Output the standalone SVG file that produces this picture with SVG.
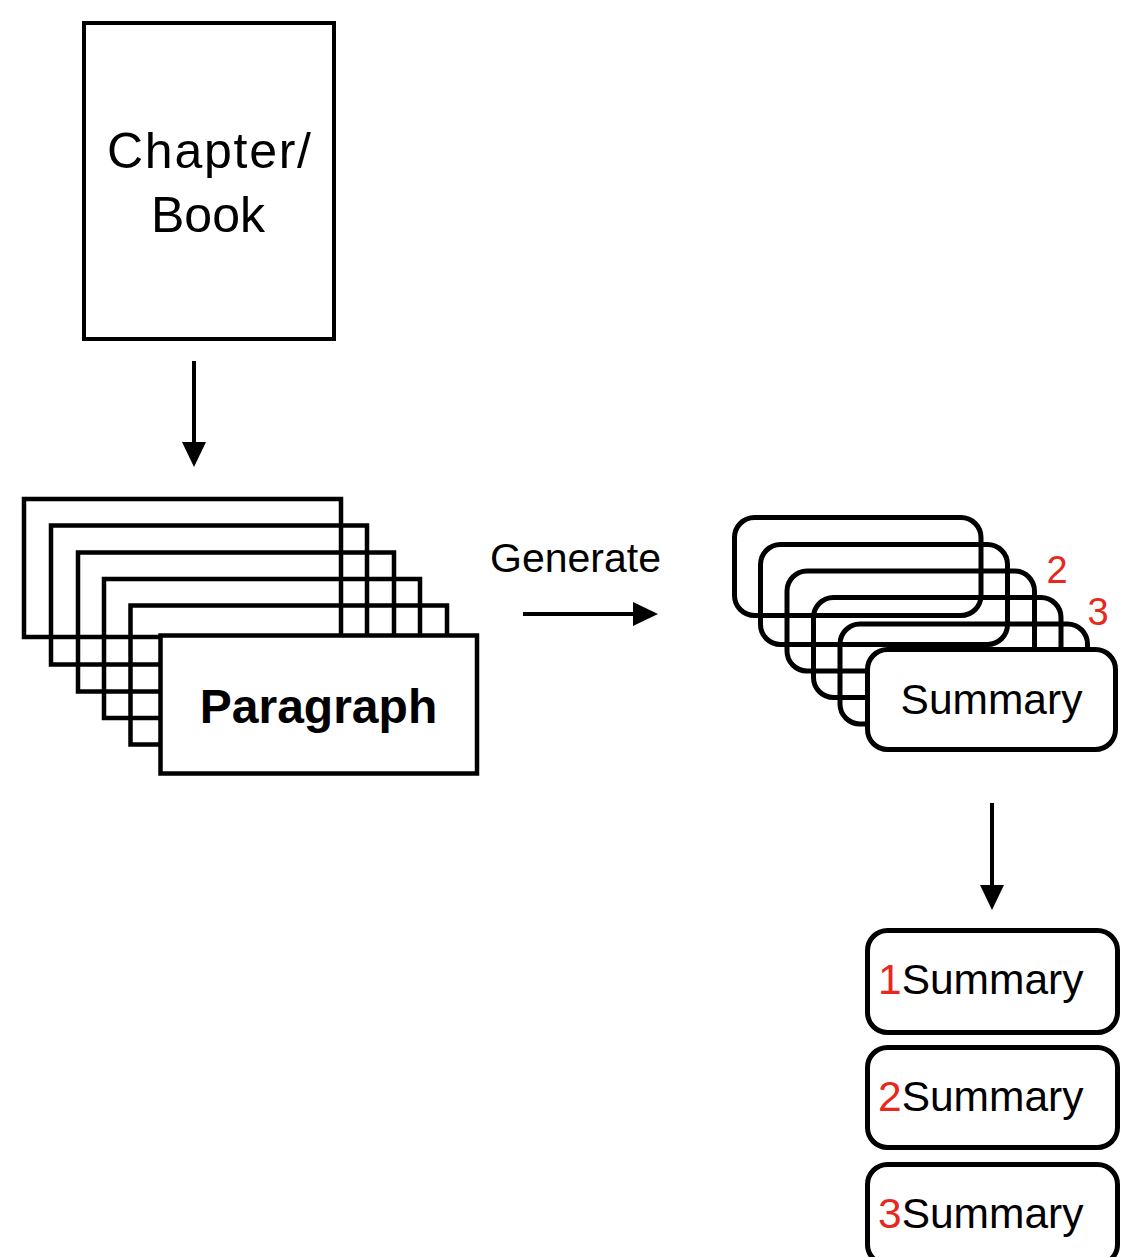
<svg xmlns="http://www.w3.org/2000/svg" width="1132" height="1257" viewBox="0 0 1132 1257">
  <style>
    .doc { fill: #fff; stroke: #000; stroke-width: 4; }
    .box { fill: none; stroke: #000; stroke-width: 4.5; }
    .front { fill: #fff; stroke: #000; stroke-width: 4.5; }
    .rbox { fill: none; stroke: #000; stroke-width: 5; }
    .rfront { fill: #fff; stroke: #000; stroke-width: 5; }
    .label { font-family: "Liberation Sans", Arial, sans-serif; fill: #000; }
    .num { fill: #e8281c; }
    .wire { stroke: #000; stroke-width: 4; fill: none; }
  </style>
  <defs>
    <marker id="head" viewBox="0 0 25 24" refX="0" refY="12" markerWidth="25" markerHeight="24" markerUnits="userSpaceOnUse" orient="auto">
      <path d="M0,0 L25,12 L0,24 Z" fill="#000"/>
    </marker>
  </defs>

  <rect width="1132" height="1257" fill="#fff"/>

  <!-- source document -->
  <g id="chapter-book">
    <rect class="doc" x="84" y="23" width="250" height="316"/>
    <text class="label" font-size="50" x="107" y="168" textLength="204" lengthAdjust="spacing">Chapter/</text>
    <text class="label" font-size="50" x="208" y="232" text-anchor="middle">Book</text>
  </g>

  <!-- stacked paragraphs -->
  <g id="paragraphs">
    <rect class="box" x="24" y="499" width="317" height="138"/>
    <rect class="box" x="51" y="525.5" width="316" height="139"/>
    <rect class="box" x="78" y="552.5" width="316" height="139"/>
    <rect class="box" x="104" y="579" width="316" height="139"/>
    <rect class="box" x="130.5" y="605.5" width="316.5" height="139"/>
    <rect class="front" x="160.5" y="635.5" width="316.5" height="138"/>
    <text class="label" font-size="48" font-weight="bold" x="318.5" y="723" text-anchor="middle">Paragraph</text>
  </g>

  <!-- stacked summaries -->
  <g id="summaries">
    <rect class="rbox" x="734.5" y="517.5" width="246.5" height="98" rx="20"/>
    <rect class="rbox" x="760.5" y="544.5" width="247" height="100" rx="20"/>
    <rect class="rbox" x="787" y="571" width="247.5" height="100" rx="20"/>
    <rect class="rbox" x="813.5" y="597.5" width="247.5" height="100" rx="20"/>
    <rect class="rbox" x="840" y="624" width="247.5" height="100" rx="20"/>
    <rect class="rfront" x="867.5" y="649.5" width="248" height="100" rx="20"/>
    <text class="label" font-size="42.5" x="991.5" y="714" text-anchor="middle">Summary</text>
    <text class="label num" font-size="38" x="1057" y="583" text-anchor="middle">2</text>
    <text class="label num" font-size="38" x="1098" y="625" text-anchor="middle">3</text>
  </g>

  <!-- ordered summary list -->
  <g id="summary-1">
    <rect class="rfront" x="867.5" y="930.5" width="250" height="102" rx="20"/>
    <text class="label" font-size="42.5" x="878" y="994"><tspan class="num">1</tspan>Summary</text>
  </g>
  <g id="summary-2">
    <rect class="rfront" x="867.5" y="1047.5" width="250" height="100" rx="20"/>
    <text class="label" font-size="42.5" x="878" y="1111"><tspan class="num">2</tspan>Summary</text>
  </g>
  <g id="summary-3">
    <rect class="rfront" x="867.5" y="1164.5" width="250" height="100" rx="20"/>
    <text class="label" font-size="42.5" x="878" y="1228"><tspan class="num">3</tspan>Summary</text>
  </g>

  <!-- connectors -->
  <g id="connectors">
    <line class="wire" x1="194" y1="361" x2="194" y2="442" marker-end="url(#head)"/>
    <line class="wire" x1="523" y1="614" x2="633" y2="614" marker-end="url(#head)"/>
    <text class="label" font-size="41" x="490" y="572">Generate</text>
    <line class="wire" x1="992" y1="803" x2="992" y2="885" marker-end="url(#head)"/>
  </g>
</svg>
